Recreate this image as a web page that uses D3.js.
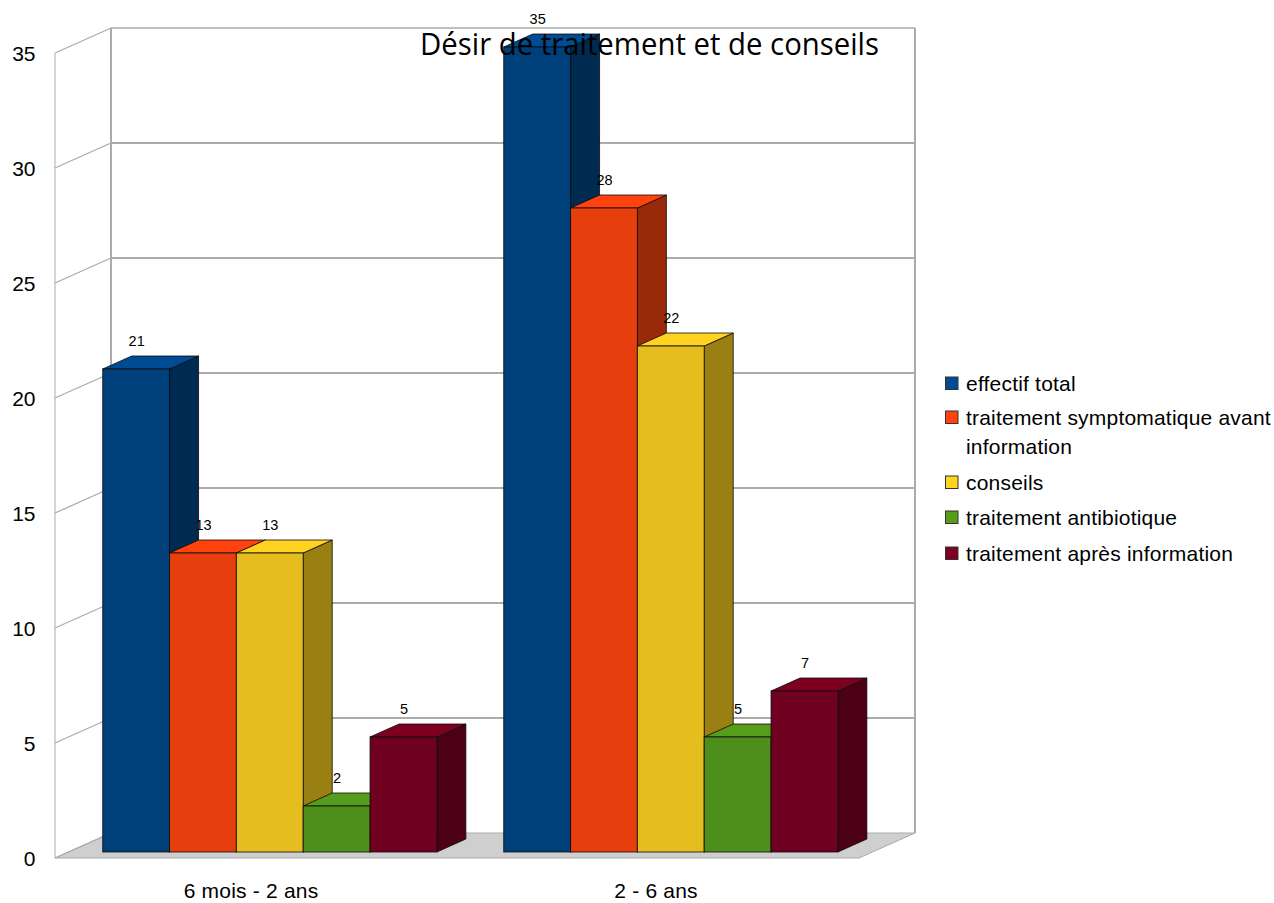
<!DOCTYPE html>
<html><head><meta charset="utf-8">
<script src="https://cdn.jsdelivr.net/npm/d3@7"></script>
<style>html,body{margin:0;padding:0;background:#fff}svg{display:block}text{font-family:"Liberation Sans",Arial,sans-serif;fill:#000}</style>
</head><body><div id="chart"></div>
<script>
const categories = ["6 mois - 2 ans", "2 - 6 ans"];
const seriesNames = ["effectif total", "traitement symptomatique avant", "conseils", "traitement antibiotique", "traitement après information"];
const effectifTotal = [21, 35];
const traitementAvant = [13, 28];
const conseils = [13, 22];
const antibiotique = [2, 5];
const traitementApres = [5, 7];
const seriesValues = [effectifTotal, traitementAvant, conseils, antibiotique, traitementApres];
const yTicks = [0, 5, 10, 15, 20, 25, 30, 35];
const topColors = ["#004c94", "#ff420e", "#ffd320", "#579d1c", "#7e0021"];
const frontColors = ["#00407a", "#e63e0c", "#e5bd1f", "#4e8f1b", "#6f001f"];
const sideColors = ["#002b50", "#992a09", "#9a7f13", "#346013", "#4b0016"];
const titleText = "Désir de traitement et de conseils";

const W = 1274, H = 903;
const svg = d3.select("#chart").append("svg").attr("width", W).attr("height", H);
const y = d3.scaleLinear().domain([0, 35]).range([858, 53]);
const wallDx = 56, wallDy = -25, left = 55, right = 859;
const grid = "#ababab";

// floor
svg.append("path").attr("d", d3.line()([[left, y(0)], [left + wallDx, y(0) + wallDy], [right + wallDx, y(0) + wallDy], [right, y(0)]]) + "Z")
  .attr("fill", "#cfcfcf").attr("stroke", grid).attr("stroke-width", 1);

// walls & gridlines
yTicks.forEach(t => {
  svg.append("line").attr("x1", left).attr("y1", y(t)).attr("x2", left + wallDx).attr("y2", y(t) + wallDy)
    .attr("stroke", grid).attr("stroke-width", 1.3);
  if (t > 0) svg.append("line").attr("x1", left + wallDx).attr("y1", y(t) + wallDy).attr("x2", right + wallDx).attr("y2", y(t) + wallDy)
    .attr("stroke", grid).attr("stroke-width", t === 35 ? 1.3 : 2);
});
svg.append("line").attr("x1", left).attr("x2", left).attr("y1", y(35)).attr("y2", y(0)).attr("stroke", grid).attr("stroke-width", 1);
svg.append("line").attr("x1", left + wallDx).attr("x2", left + wallDx).attr("y1", y(35) + wallDy).attr("y2", y(0) + wallDy).attr("stroke", grid).attr("stroke-width", 2);
svg.append("line").attr("x1", right + wallDx).attr("x2", right + wallDx).attr("y1", y(35) + wallDy).attr("y2", y(0) + wallDy).attr("stroke", grid).attr("stroke-width", 2);

// y labels
svg.selectAll(".yl").data(yTicks).join("text").attr("class", "yl")
  .attr("x", 35.5).attr("y", d => y(d) + 8).attr("text-anchor", "end").attr("font-size", 21).text(d => d);

// bars
const x0 = d3.scaleBand().domain(categories).range([69.3, 871.3]).paddingInner(67 / 402).paddingOuter(67 / 804);
const x1 = d3.scaleBand().domain(d3.range(5)).range([0, x0.bandwidth()]);
const barLift = 6, depthX = 29, depthY = 13;
const line = d3.line();
const outline = "rgba(10,10,10,0.8)";
categories.forEach((c, ci) => {
  seriesValues.forEach((vals, si) => {
    const v = vals[ci];
    const xl = x0(c) + x1(si), xr = xl + x1.bandwidth();
    const yb = y(0) - barLift, yt = y(v) - barLift;
    const g = svg.append("g");
    g.append("path").attr("d", line([[xr, yt], [xr + depthX, yt - depthY], [xr + depthX, yb - depthY], [xr, yb]]) + "Z")
      .attr("fill", sideColors[si]).attr("stroke", outline);
    g.append("path").attr("d", line([[xl, yt], [xl + depthX, yt - depthY], [xr + depthX, yt - depthY], [xr, yt]]) + "Z")
      .attr("fill", topColors[si]).attr("stroke", outline);
    g.append("rect").attr("x", xl).attr("y", yt).attr("width", xr - xl).attr("height", yb - yt)
      .attr("fill", frontColors[si]).attr("stroke", outline);
  });
});
// value labels
categories.forEach((c, ci) => {
  seriesValues.forEach((vals, si) => {
    const v = vals[ci];
    svg.append("text").attr("x", x0(c) + x1(si) + x1.bandwidth() / 2 + 0.5).attr("y", y(v) - barLift - 23)
      .attr("text-anchor", "middle").attr("font-size", 14.5).text(v);
  });
});

// category labels
const xLab = d3.scaleBand().domain(categories).range([48.5, 858.5]);
svg.selectAll(".xl").data(categories).join("text").attr("class", "xl")
  .attr("x", d => xLab(d) + xLab.bandwidth() / 2).attr("y", 898).attr("text-anchor", "middle")
  .attr("font-size", 21).attr("letter-spacing", 0.2).text(d => d);

// title
svg.append("text").attr("x", 420).attr("y", 55)
  .style("font-family", '"Open Sans","Noto Sans",sans-serif').attr("font-size", 31.5)
  .attr("textLength", 459).attr("lengthAdjust", "spacingAndGlyphs").text(titleText);

// legend
const legendRows = [391, 425, 490, 525, 561];
const legendContinuation = "information";
seriesNames.forEach((n, i) => {
  svg.append("rect").attr("x", 945.5).attr("y", legendRows[i] - 14).attr("width", 12.5).attr("height", 12.5)
    .attr("fill", topColors[i]).attr("stroke", "#333").attr("stroke-width", 1);
  svg.append("text").attr("x", 966).attr("y", legendRows[i]).attr("font-size", 21).attr("letter-spacing", 0.2).text(n);
});
svg.append("text").attr("x", 966).attr("y", 454).attr("font-size", 21).attr("letter-spacing", 0.2).text(legendContinuation);
</script></body></html>
